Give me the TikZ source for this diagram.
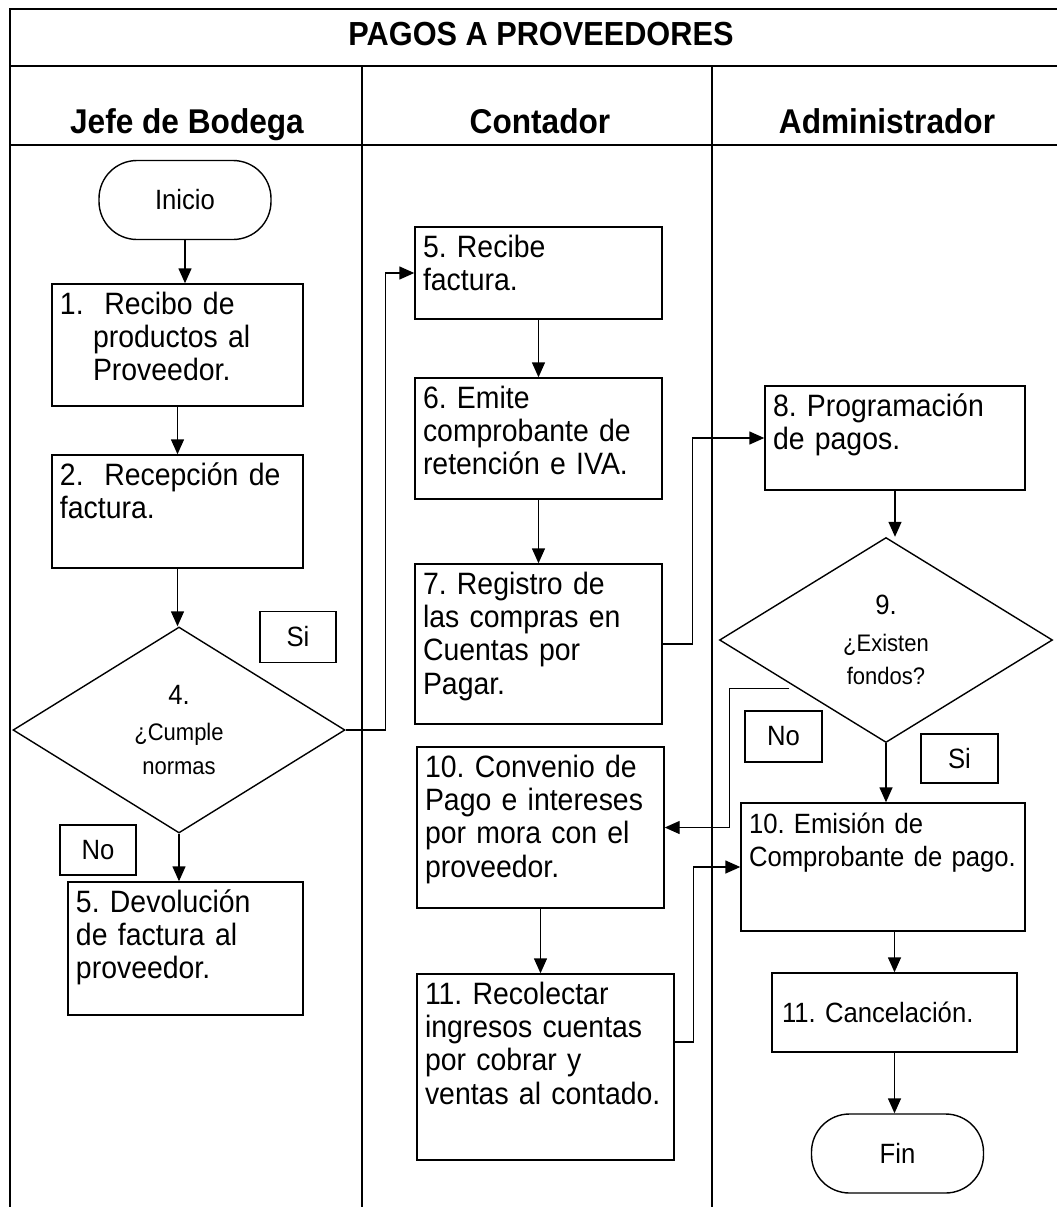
\documentclass[tikz,border=0pt]{standalone}
\usepackage{fontspec}
\setmainfont{Liberation Sans}[FakeStretch=0.92]
\usetikzlibrary{arrows.meta}
\usetikzlibrary{shapes.geometric}
\usetikzlibrary{calc}
\usetikzlibrary{positioning}

\newcommand{\qsmall}{\fontsize{24}{27}\selectfont}

\tikzset{
  box/.code 2 args={%
    \pgfmathsetmacro\boxtw{#1-16}%
    \pgfmathsetmacro\boxtd{#2-38}%
    \tikzset{draw,line width=1.4bp,inner xsep=8bp,inner ysep=8bp,align=left,
      text width=\boxtw bp,text height=22bp,text depth=\boxtd bp}},
  big/.style={font=\fontsize{31}{33.5}\selectfont},
  tag/.style 2 args={draw,line width=1.4bp,inner sep=0pt,minimum width=#1,minimum height=#2},
  term/.style={draw,line width=1.4bp,rounded corners=38bp,inner sep=0pt,
    minimum width=172bp,minimum height=79bp},
  decide/.style={draw,diamond,line width=1.4bp,inner sep=0pt,aspect=1.6,align=center},
  head/.style={font=\fontsize{34.5}{38}\selectfont\bfseries,anchor=base},
}

\begin{document}
\frenchspacing
\begin{tikzpicture}[x=1bp,y=-1bp,
  every node/.append style={font=\fontsize{28}{33.5}\selectfont},
  flow/.style={line width=1.4bp,-{Triangle[length=15bp,width=13bp]}},
  lane/.style={line width=1.5bp}]
\useasboundingbox (0,0) rectangle (1057,1207);

% frame and lanes
\draw[lane] (1057,9) -- (10,9) -- (10,1207);
\draw[lane] (10,66) -- (1057,66);
\draw[lane] (10,145) -- (1057,145);
\draw[lane] (362,66) -- (362,1207);
\draw[lane] (712,66) -- (712,1207);

\node[head,font=\fontsize{33.5}{38}\selectfont\bfseries] (ttl) at (541,45) {PAGOS A PROVEEDORES};
\node[head] (jefe) at (187,133) {Jefe de Bodega};
\node[head] (cont) at (540,133) {Contador};
\node[head] (admin) at (887,133) {Administrador};

% Jefe de Bodega
\node[term] (ini) at (185,200) {Inicio};
\node[box={251}{122},big] (rec) at (177.5,345) {1.\ \ Recibo de\\\hspace*{33bp}productos al\\\hspace*{33bp}Proveedor.};
\node[box={251}{113},big] (fact) at (177.5,511.5) {2.\ \ Recepción de\\factura.};
\node[decide,minimum width=332bp,minimum height=206bp] (cumple) at (179,730) {4.\\[3bp]\qsmall ¿Cumple\\\qsmall normas};
\node[tag={76bp}{51bp}] (si1) at (298,637) {Si};
\node[tag={76bp}{50bp}] (no1) at (98,850) {No};
\node[box={235}{133},big] (devol) at (185.5,948.5) {5. Devolución\\de factura al\\proveedor.};

% Contador
\node[box={247}{92},big] (recf) at (538.5,273) {5. Recibe\\factura.};
\node[box={247}{121},big] (emite) at (538.5,438.5) {6. Emite\\comprobante de\\retención e IVA.};
\node[box={247}{160},big] (regis) at (538.5,644) {7. Registro de\\las compras en\\Cuentas por\\Pagar.};
\node[box={247}{161},big] (conv) at (540.5,827.5) {10. Convenio de\\Pago e intereses\\por mora con el\\proveedor.};
\node[box={257}{186},big] (recol) at (545.5,1067) {11. Recolectar\\ingresos cuentas\\por cobrar y\\ventas al contado.};

% Administrador
\node[box={260}{104},big] (prog) at (895,438) {8. Programación\\de pagos.};
\node[decide,minimum width=333bp,minimum height=205bp] (fondos) at (886,640) {9.\\[3bp]\qsmall ¿Existen\\\qsmall fondos?};
\node[tag={77bp}{51bp}] (no2) at (783.5,736.5) {No};
\node[tag={77bp}{49bp}] (si2) at (959.5,758.5) {Si};
\node[box={284}{128}] (emis) at (883,867) {10. Emisión de\\Comprobante de pago.};
\node[tag={245bp}{79bp},inner xsep=10bp,text width=225bp,align=left] (canc) at (894.5,1012.5) {11. Cancelación.};
\node[term] (fin) at (897.5,1153.5) {Fin};

% connectors
\draw[flow] (ini.south) -- (ini.south |- rec.north);
\draw[flow] (rec.south) -- (fact.north);
\draw[flow] (fact.south) -- (fact.south |- cumple.north);
\draw[flow] (cumple.south) -- (cumple.south |- devol.north);
\draw[flow] (cumple.east) -- ++(40,0) |- (recf.west);
\draw[flow] (recf.south) -- (emite.north);
\draw[flow] (emite.south) -- (regis.north);
\draw[flow] (regis.east) -- ++(30,0) |- (prog.west);
\draw[flow] (prog.south) -- (prog.south |- fondos.north);
\coordinate (nout) at ($(fondos.west)!0.47!(fondos.south)$);
\draw[flow] ([xshift=-8bp]nout) -- ++(-60,0) |- (conv.east);
\draw[flow] (fondos.south) -- (fondos.south |- emis.north);
\draw[flow] (conv.south) -- (conv.south |- recol.north);
\draw[flow] ([yshift=25bp]recol.east) -- ++(19,0) |- (emis.west);
\draw[flow] (canc.north |- emis.south) -- (canc.north);
\draw[flow] (canc.south) -- (canc.south |- fin.north);
\end{tikzpicture}
\end{document}
